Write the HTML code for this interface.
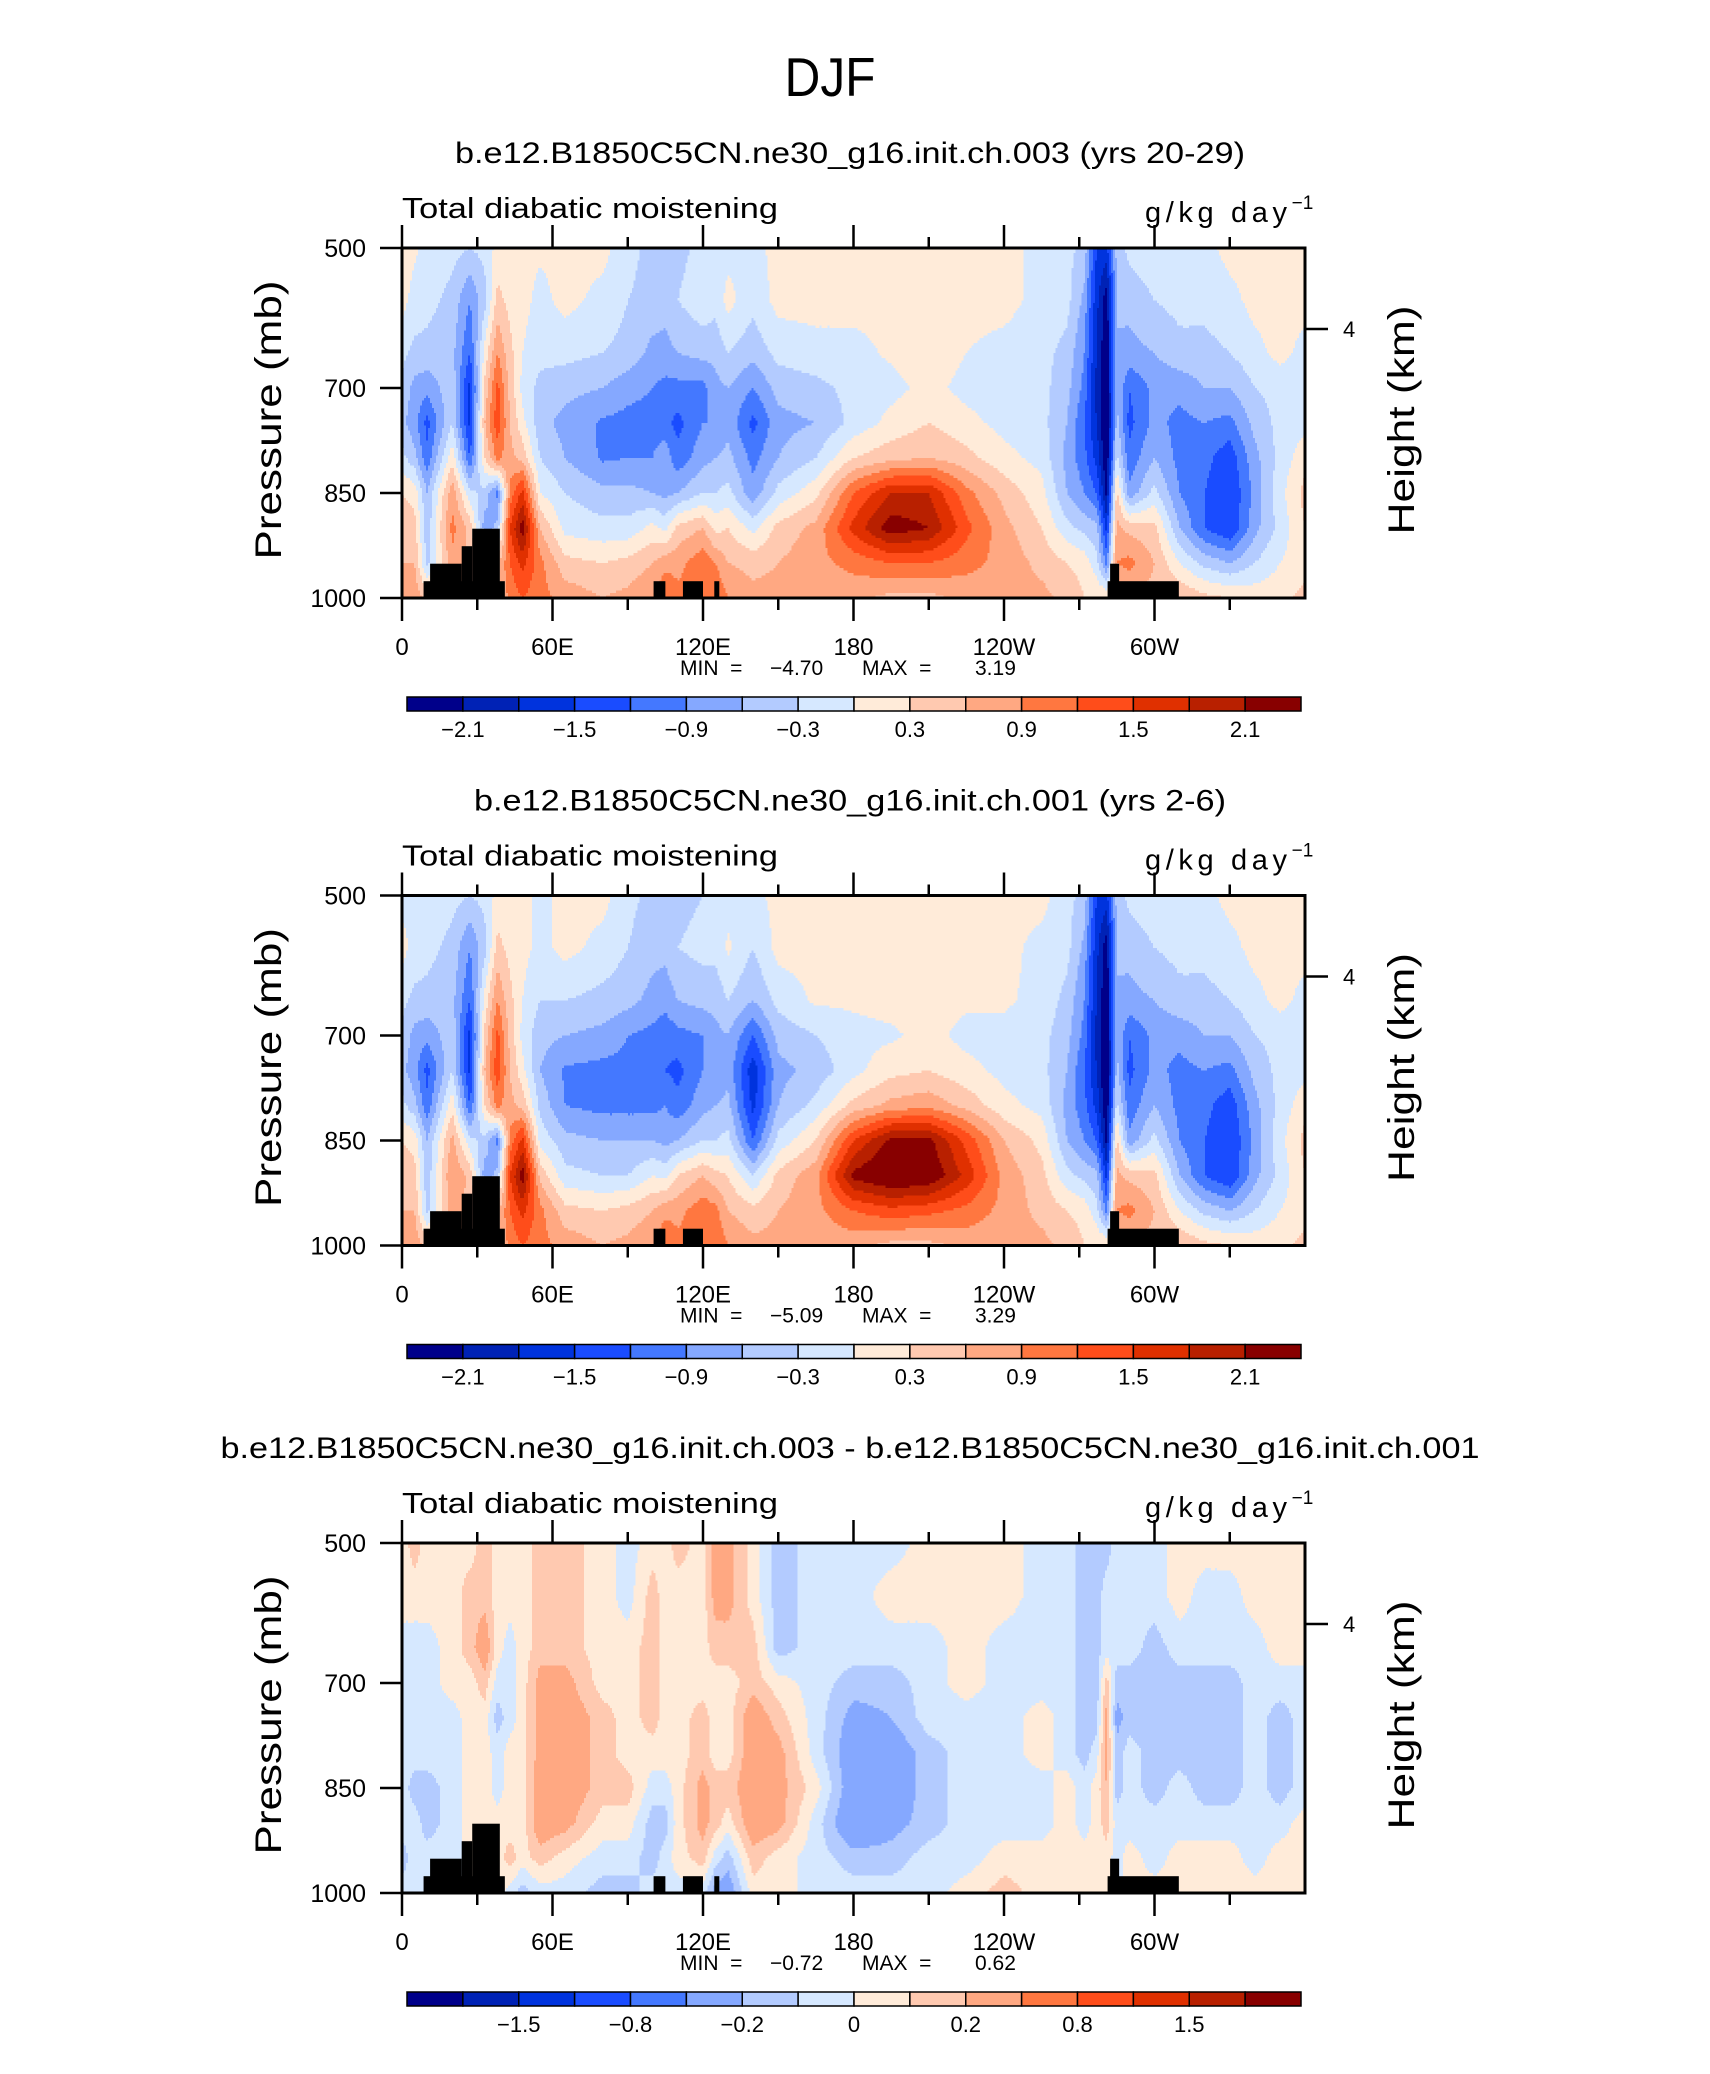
<!DOCTYPE html>
<html><head><meta charset="utf-8"><title>DJF</title>
<style>html,body{margin:0;padding:0;background:#fff}svg{display:block}text{font-family:"Liberation Sans",sans-serif;fill:#000}.pre{white-space:pre}</style>
</head><body>
<svg id="fig" xmlns="http://www.w3.org/2000/svg" width="1710" height="2074" viewBox="0 0 1710 2074">
<rect x="0" y="0" width="1710" height="2074" fill="#fff"/>
<text x="830" y="96" font-size="55" text-anchor="middle" textLength="91" lengthAdjust="spacingAndGlyphs">DJF</text>
</svg>
<script>
// ---------- data ----------
const lonNodes = [0,5,10,20,27,33,38,43,48,55,65,80,90,100,105,110,120,125,130,140,150,165,180,195,210,225,240,255,265,272,277,281,285,290,300,310,320,330,340,350,360];
const presNodes = [500,575,650,700,750,800,850,900,950,1000];
const fieldA = [
[0.1,0.1,-0.2,-0.4,-0.5,-0.2,0.3,0.5,0.6,0.7],
[0.05,-0.1,-0.4,-0.7,-0.8,-0.5,0.2,0.4,0.6,0.8],
[-0.1,-0.2,-0.4,-0.8,-1.3,-1.1,-0.6,-0.5,-0.4,0.5],
[-0.2,-0.4,-0.5,-0.4,-0.3,0.2,0.8,1.0,0.8,0.8],
[-0.3,-0.9,-1.2,-1.6,-1.6,-1.2,-0.2,0.5,0.5,0.5],
[-0.2,-0.4,0.1,0.4,0.6,0.3,-0.4,-0.8,0.5,0.5],
[0.1,0.4,0.9,1.3,1.4,1.0,-1.0,-0.5,0.5,0.5],
[0.1,0.2,0.4,0.5,0.6,0.7,1.0,1.5,1.2,1.0],
[0.1,0.1,0.0,-0.1,0.1,0.5,1.6,2.3,1.6,1.2],
[0.05,-0.1,-0.2,-0.4,-0.5,-0.3,0.0,0.6,1.0,1.0],
[0.1,0.1,-0.2,-0.5,-0.7,-0.6,-0.3,-0.1,0.4,0.8],
[0.1,-0.1,-0.3,-0.6,-0.95,-0.95,-0.5,-0.2,0.3,0.6],
[-0.2,-0.3,-0.4,-0.8,-1.0,-0.9,-0.5,-0.2,0.4,0.7],
[-0.4,-0.4,-0.7,-0.9,-1.0,-0.9,-0.6,0.1,0.6,0.9],
[-0.6,-0.5,-0.7,-1.0,-1.1,-0.7,-0.7,-0.1,0.8,1.2],
[-0.4,-0.3,-0.6,-1.0,-1.3,-1.1,-0.6,0.4,0.8,1.0],
[-0.2,-0.1,-0.5,-1.0,-0.9,-0.7,-0.3,0.6,1.1,1.0],
[-0.2,-0.2,-0.5,-0.7,-0.9,-0.6,-0.3,0.2,0.9,1.2],
[-0.1,0.1,-0.3,-0.6,-0.7,-0.5,-0.2,0.3,0.6,0.9],
[-0.1,-0.2,-0.5,-0.9,-1.3,-1.0,-0.8,-0.1,0.5,0.7],
[0.1,0.1,-0.2,-0.5,-0.7,-0.6,-0.2,0.4,0.6,0.7],
[0.1,0.1,-0.1,-0.4,-0.6,-0.3,0.2,0.7,0.8,0.7],
[0.1,0.1,-0.1,-0.2,-0.2,0.3,1.2,1.6,1.0,0.7],
[0.1,0.1,0.05,-0.1,0.1,0.5,1.8,2.3,1.2,0.5],
[0.1,0.2,0.2,0.1,0.3,0.6,1.8,2.1,1.2,0.5],
[0.1,0.1,0.0,-0.1,0.1,0.4,1.0,1.3,1.0,0.7],
[0.1,0.1,-0.1,-0.2,-0.1,0.1,0.5,0.7,0.8,0.7],
[-0.1,-0.1,-0.2,-0.2,-0.2,-0.1,0.1,0.3,0.5,0.7],
[-0.2,-0.2,-0.4,-0.5,-0.6,-0.7,-0.6,-0.2,0.3,0.5],
[-0.4,-0.7,-0.9,-1.0,-1.2,-1.1,-0.9,-0.4,0.2,0.3],
[-1.5,-1.7,-1.8,-1.9,-1.8,-1.6,-1.2,-0.5,-0.2,0.3],
[-1.6,-2.3,-2.4,-2.4,-2.5,-2.4,-2.2,-1.6,-1.0,0.3],
[-0.5,-0.6,-0.6,-0.6,-0.5,-0.2,0.4,0.7,0.9,0.5],
[-0.2,-0.5,-0.7,-1.2,-1.3,-1.1,-0.8,0.5,1.0,0.5],
[-0.1,-0.3,-0.6,-0.8,-0.8,-0.6,-0.2,0.4,0.6,0.5],
[-0.1,-0.2,-0.4,-0.8,-1.0,-1.0,-0.9,-0.6,0.0,0.6],
[-0.1,-0.2,-0.4,-0.6,-0.9,-1.1,-1.2,-1.2,-0.4,0.4],
[0.1,-0.1,-0.3,-0.6,-1.0,-1.4,-1.5,-1.5,-0.6,0.3],
[0.1,0.1,-0.1,-0.3,-0.5,-0.7,-0.8,-0.7,-0.3,0.2],
[0.1,0.1,0.1,-0.2,-0.2,-0.2,-0.1,-0.2,0.0,0.2],
[0.1,0.1,-0.1,-0.2,-0.1,0.2,0.4,0.3,0.2,0.4]
];
const fieldB = [
[-0.1,0.1,-0.2,-0.4,-0.5,-0.2,0.3,0.5,0.6,0.7],
[-0.05,-0.1,-0.4,-0.7,-0.8,-0.5,0.2,0.4,0.6,0.8],
[-0.1,-0.2,-0.4,-0.8,-1.3,-1.1,-0.6,-0.5,-0.4,0.5],
[-0.2,-0.4,-0.5,-0.4,-0.3,0.2,0.7,0.9,0.8,0.8],
[-0.3,-0.9,-1.2,-1.6,-1.6,-1.2,-0.2,0.5,0.5,0.5],
[-0.2,-0.4,0.1,0.4,0.6,0.3,-0.4,-0.8,0.5,0.5],
[0.1,0.4,0.9,1.3,1.4,1.0,-1.0,-0.5,0.5,0.5],
[0.1,0.2,0.4,0.5,0.6,0.7,1.0,1.5,1.2,1.0],
[0.1,0.1,0.0,-0.1,0.1,0.5,1.6,2.3,1.6,1.2],
[-0.1,-0.1,-0.3,-0.5,-0.6,-0.4,-0.1,0.5,1.0,1.0],
[0.1,0.1,-0.3,-0.6,-0.95,-0.9,-0.5,-0.2,0.4,0.8],
[0.1,-0.1,-0.4,-0.7,-1.0,-1.0,-0.6,-0.3,0.3,0.6],
[-0.2,-0.3,-0.5,-0.9,-1.0,-1.0,-0.6,-0.3,0.4,0.7],
[-0.4,-0.5,-0.7,-1.0,-1.1,-1.0,-0.6,0.0,0.6,0.9],
[-0.6,-0.5,-0.8,-1.1,-1.2,-0.9,-0.7,-0.1,0.8,1.2],
[-0.4,-0.3,-0.6,-1.0,-1.3,-1.1,-0.6,0.3,0.8,1.0],
[-0.3,-0.2,-0.5,-0.9,-0.9,-0.7,-0.3,0.6,1.1,1.0],
[-0.2,-0.2,-0.5,-0.7,-0.9,-0.6,-0.3,0.4,1.0,1.2],
[-0.1,0.05,-0.3,-0.6,-0.7,-0.5,-0.2,0.3,0.6,0.9],
[-0.1,-0.3,-0.6,-1.2,-1.7,-1.6,-1.2,-0.3,0.4,0.7],
[0.1,0.1,-0.2,-0.5,-0.7,-0.6,-0.2,0.4,0.6,0.7],
[0.1,0.1,0.05,-0.3,-0.5,-0.2,0.3,0.8,0.8,0.7],
[0.1,0.1,0.05,-0.1,-0.1,0.4,1.5,2.2,1.2,0.7],
[0.1,0.1,0.1,-0.05,0.2,0.7,2.2,2.5,1.4,0.5],
[0.1,0.2,0.2,0.1,0.3,0.8,2.2,2.4,1.3,0.5],
[0.1,0.1,0.05,-0.1,0.1,0.5,1.4,1.7,1.1,0.7],
[0.1,0.1,0.05,-0.1,-0.1,0.1,0.6,0.8,0.8,0.7],
[0.1,-0.1,-0.1,-0.2,-0.2,-0.1,0.2,0.4,0.5,0.7],
[-0.2,-0.2,-0.4,-0.5,-0.6,-0.7,-0.6,-0.2,0.3,0.5],
[-0.4,-0.7,-0.9,-1.0,-1.2,-1.1,-0.9,-0.4,0.2,0.3],
[-1.5,-1.7,-1.8,-1.9,-1.8,-1.6,-1.2,-0.5,-0.2,0.3],
[-1.6,-2.3,-2.4,-2.4,-2.5,-2.4,-2.2,-1.6,-1.0,0.3],
[-0.5,-0.6,-0.6,-0.6,-0.5,-0.2,0.4,0.7,0.9,0.5],
[-0.2,-0.5,-0.7,-1.2,-1.3,-1.1,-0.8,0.5,1.0,0.5],
[-0.1,-0.3,-0.6,-0.8,-0.8,-0.6,-0.2,0.4,0.6,0.5],
[-0.1,-0.2,-0.4,-0.8,-1.0,-1.0,-0.9,-0.6,0.0,0.6],
[-0.1,-0.2,-0.4,-0.6,-0.9,-1.1,-1.2,-1.2,-0.4,0.4],
[0.1,-0.1,-0.3,-0.6,-1.0,-1.4,-1.5,-1.5,-0.6,0.3],
[0.1,0.1,-0.1,-0.3,-0.5,-0.7,-0.8,-0.7,-0.3,0.2],
[0.1,0.1,0.1,-0.2,-0.2,-0.2,-0.1,-0.2,0.0,0.2],
[0.1,0.1,-0.1,-0.2,-0.1,0.2,0.4,0.3,0.2,0.4]
];
const fieldC = [
[0.05,0.05,-0.05,-0.05,-0.05,-0.05,-0.05,-0.05,-0.15,-0.05],
[0.15,0.05,-0.05,-0.05,-0.05,-0.05,-0.15,-0.05,-0.05,-0.05],
[0.05,0.05,-0.05,-0.05,-0.05,-0.05,-0.15,-0.15,-0.05,-0.05],
[0.05,0.05,0.05,0.05,-0.05,-0.05,-0.05,-0.05,-0.05,-0.05],
[0.05,0.15,0.15,0.05,0.05,0.05,0.05,0.05,0.05,0.05],
[0.15,0.15,0.3,0.15,0.05,0.05,0.05,0.1,0.05,0.05],
[0.05,0.05,0.05,-0.05,-0.15,-0.05,-0.05,0.05,0.05,0.05],
[0.05,0.05,-0.05,-0.05,-0.05,0.05,0.05,0.05,0.15,-0.05],
[0.05,0.05,0.05,0.05,0.05,0.05,0.05,0.05,0.05,-0.15],
[0.15,0.15,0.15,0.25,0.25,0.25,0.3,0.3,0.15,-0.05],
[0.15,0.15,0.15,0.25,0.3,0.3,0.3,0.25,0.05,-0.05],
[0.05,0.05,0.05,0.05,0.15,0.15,0.15,0.05,-0.05,-0.15],
[-0.05,-0.05,0.05,0.05,0.05,0.05,0.15,0.05,-0.05,-0.15],
[0.05,0.15,0.15,0.15,0.15,0.05,-0.05,-0.15,-0.15,-0.05],
[0.05,0.05,0.05,0.05,0.05,0.05,-0.05,-0.15,-0.05,-0.05],
[0.15,0.05,0.05,0.05,0.05,0.05,0.05,0.05,0.05,-0.05],
[0.05,0.05,0.05,0.05,0.15,0.15,0.25,0.25,0.15,-0.05],
[0.25,0.25,0.15,0.05,0.05,0.05,0.15,0.15,-0.05,-0.25],
[0.25,0.25,0.15,0.05,0.05,0.05,0.15,0.05,-0.15,-0.3],
[0.05,0.05,0.15,0.15,0.3,0.3,0.3,0.3,0.15,0.05],
[-0.15,-0.15,-0.15,0.05,0.15,0.25,0.25,0.25,0.05,0.05],
[-0.05,-0.05,-0.05,-0.05,-0.05,-0.05,0.05,-0.05,-0.05,-0.05],
[-0.05,-0.05,-0.05,-0.15,-0.25,-0.3,-0.3,-0.35,-0.15,-0.05],
[-0.05,0.05,-0.05,-0.15,-0.2,-0.3,-0.3,-0.25,-0.15,-0.05],
[0.05,0.05,-0.05,-0.05,-0.05,-0.15,-0.15,-0.15,-0.05,-0.05],
[0.05,0.05,0.05,0.05,-0.05,-0.05,-0.05,-0.05,-0.05,0.05],
[0.05,0.05,-0.05,-0.05,-0.05,-0.05,-0.05,-0.05,0.05,0.15],
[-0.05,-0.05,-0.05,-0.05,0.05,0.05,-0.05,-0.05,0.05,0.05],
[-0.05,-0.05,-0.05,-0.05,-0.05,-0.05,0.05,0.05,0.05,0.05],
[-0.15,-0.15,-0.15,-0.15,-0.15,-0.15,-0.05,-0.05,0.05,0.05],
[-0.15,-0.15,-0.15,-0.15,-0.15,-0.05,0.05,0.05,0.05,0.05],
[-0.15,-0.05,-0.05,0.15,0.25,0.25,0.2,0.15,0.05,0.05],
[-0.05,-0.05,-0.05,-0.15,-0.25,-0.15,-0.15,-0.05,-0.05,-0.05],
[-0.05,-0.05,-0.05,-0.15,-0.15,-0.05,-0.05,-0.05,0.05,0.05],
[-0.05,-0.05,-0.15,-0.15,-0.15,-0.15,-0.15,-0.05,-0.05,0.05],
[0.05,0.05,-0.05,-0.15,-0.15,-0.15,-0.05,-0.05,0.05,0.05],
[0.05,-0.05,-0.05,-0.15,-0.15,-0.15,-0.15,-0.05,0.05,0.05],
[0.05,-0.05,-0.05,-0.15,-0.15,-0.15,-0.15,-0.05,0.05,0.05],
[0.05,0.05,-0.05,-0.05,-0.05,-0.05,-0.05,-0.05,-0.05,0.05],
[0.05,0.05,0.05,-0.05,-0.15,-0.15,-0.15,-0.05,0.05,0.05],
[0.05,0.05,0.05,-0.05,-0.05,-0.05,-0.05,0.05,0.05,0.05]
];
// land mask blocks: [lonStart, lonEnd, topPressure]
const landA = [[8.6,41,976],[11.2,23.8,951],[23.8,28,926],[28,39,901],[100.3,105,976],[112,120,976],[124.5,126.5,976],[281.3,309.7,976],[282.3,285.9,951]];
const landB = [[8.6,41,976],[11.2,23.8,951],[23.8,28,926],[28,39,901],[100.3,105,976],[112,120,976],[281.3,309.7,976],[282.3,285.9,951]];
const levelsAB = [-2.1,-1.8,-1.5,-1.2,-0.9,-0.6,-0.3,0,0.3,0.6,0.9,1.2,1.5,1.8,2.1];
const levelsC = [-2,-1.5,-1,-0.8,-0.4,-0.2,-0.1,0,0.1,0.2,0.4,0.8,1,1.5,2];
const cbarLabelsAB = ["−2.1","−1.5","−0.9","−0.3","0.3","0.9","1.5","2.1"];
const cbarLabelsC = ["−1.5","−0.8","−0.2","0","0.2","0.8","1.5"];
const xTickLabels = ["0","60E","120E","180","120W","60W"];
const xTickLons = [0,60,120,180,240,300];
const yTickLabels = ["500","700","850","1000"];
const yTickPres = [500,700,850,1000];
const titles = ["b.e12.B1850C5CN.ne30_g16.init.ch.003 (yrs 20-29)","b.e12.B1850C5CN.ne30_g16.init.ch.001 (yrs 2-6)","b.e12.B1850C5CN.ne30_g16.init.ch.003 - b.e12.B1850C5CN.ne30_g16.init.ch.001"];
const minVals = ["−4.70","−5.09","−0.72"];
const maxVals = ["3.19","3.29","0.62"];
const palette = ["#00008a","#0022b5","#0033dd","#1a4cff","#4478ff","#85a8ff","#b3cbff","#d6e8ff","#ffebd9","#ffc9b0","#ffa882","#ff7740","#ff4d1a","#e03000","#b82000","#880000"];

// ---------- drawing ----------
const NS="http://www.w3.org/2000/svg";
const svg=document.getElementById('fig');
function mk(tag,attrs,parent){const e=document.createElementNS(NS,tag);for(const k in attrs)e.setAttribute(k,attrs[k]);(parent||svg).appendChild(e);return e;}
const X0=402,X1=1305,H=350;
function xs(lon){return X0+lon/360*(X1-X0);}
function ysF(top){return function(p){return top+(p-500)/500*H;};}
function interp(field,lon,p){
  let i=0;while(i<lonNodes.length-2&&lon>lonNodes[i+1])i++;
  let j=0;while(j<presNodes.length-2&&p>presNodes[j+1])j++;
  const tx=Math.min(1,Math.max(0,(lon-lonNodes[i])/(lonNodes[i+1]-lonNodes[i])));
  const ty=Math.min(1,Math.max(0,(p-presNodes[j])/(presNodes[j+1]-presNodes[j])));
  const a=field[i][j],b=field[i+1][j],c=field[i][j+1],d=field[i+1][j+1];
  return a*(1-tx)*(1-ty)+b*tx*(1-ty)+c*(1-tx)*ty+d*tx*ty;
}
function cls(v,lev){let k=0;while(k<lev.length&&v>=lev[k])k++;return k;}
const panels=[
 {field:fieldA,land:landA,lev:levelsAB,cl:cbarLabelsAB,cpos:[1,3,5,7,9,11,13,15],dy:0},
 {field:fieldB,land:landB,lev:levelsAB,cl:cbarLabelsAB,cpos:[1,3,5,7,9,11,13,15],dy:647.5},
 {field:fieldC,land:landA,lev:levelsC,cl:cbarLabelsC,cpos:[2,4,6,8,10,12,14],dy:1295}
];
panels.forEach((P,pi)=>{
  const dy=P.dy, top=248+dy, ys=ysF(top);
  const g=mk('g',{});
  
  
  const t=mk('text',{x:850,y:163+dy,'font-size':30,'text-anchor':'middle'},g);
  
  
  t.textContent=titles[pi];
  const tl=[790,752,1259][pi];
  t.setAttribute('textLength',tl);t.setAttribute('lengthAdjust','spacingAndGlyphs');
  const st=mk('text',{x:402,y:218+dy,'font-size':29,textLength:376,lengthAdjust:'spacingAndGlyphs'},g);
  
  
  st.textContent='Total diabatic moistening';
  const un=mk('text',{x:1145,y:222+dy,'font-size':29},g);
  
  
  const u1=mk('tspan',{textLength:142,lengthAdjust:'spacing'},un);u1.textContent='g/kg day';
  const u2=mk('tspan',{'font-size':19,dy:-13},un);u2.textContent='−1';
  // heatmap
  const hm=mk('g',{'shape-rendering':'crispEdges'},g);
  
  
  const nx=452, ny=140, cw=(X1-X0)/nx, ch=H/ny;
  for(let r=0;r<ny;r++){
    const p=500+(r+0.5)/ny*500;
    let start=0,prev=null;
    for(let c=0;c<=nx;c++){
      let k=null;
      if(c<nx){const lon=(c+0.5)/nx*360;k=cls(interp(P.field,lon,p),P.lev);}
      if(k!==prev){
        if(prev!==null){
          const rc=mk('rect',{x:(X0+start*cw).toFixed(2),y:(top+r*ch).toFixed(2),width:((c-start)*cw+0.6).toFixed(2),height:(ch+0.6).toFixed(2),fill:palette[prev]},hm);
          
          
        }
        start=c;prev=k;
      }
    }
  }
  P.land.forEach(L=>{
    const rc=mk('rect',{x:xs(L[0]),y:ys(L[2]),width:xs(L[1])-xs(L[0]),height:ys(1000)-ys(L[2]),fill:'#000'},g);
    
    
  });
  const fr=mk('rect',{x:X0,y:top,width:X1-X0,height:H,fill:'none',stroke:'#000','stroke-width':3},g);
  
  
  for(let lon=0;lon<360;lon+=30){
    const maj=lon%60===0, x=xs(lon);
    const a=mk('line',{x1:x,x2:x,y1:top+H,y2:top+H+(maj?23:12),stroke:'#000','stroke-width':2.5},g);
    
    
    const b=mk('line',{x1:x,x2:x,y1:top,y2:top-(maj?23:11),stroke:'#000','stroke-width':2.5},g);
    
    
  }
  xTickLabels.forEach((s,i)=>{
    const tx=mk('text',{x:xs(xTickLons[i]),y:655+dy,'font-size':24,'text-anchor':'middle'},g);
    
    
    tx.textContent=s;
  });
  yTickLabels.forEach((s,i)=>{
    const y=ys(yTickPres[i]);
    const ln=mk('line',{x1:380,x2:X0,y1:y,y2:y,stroke:'#000','stroke-width':2.5},g);
    
    
    const tx=mk('text',{x:366,y:y+9,'font-size':25,'text-anchor':'end'},g);
    
    
    tx.textContent=s;
  });
  const rt=mk('line',{x1:X1,x2:1328,y1:329+dy,y2:329+dy,stroke:'#000','stroke-width':2.5},g);
  
  
  const r4=mk('text',{x:1343,y:337+dy,'font-size':22},g);
  
  
  r4.textContent='4';
  const yl=mk('text',{x:0,y:0,'font-size':37,'text-anchor':'middle',textLength:279,lengthAdjust:'spacingAndGlyphs',transform:'translate(281,'+(420+dy)+') rotate(-90)'},g);
  
  
  yl.textContent='Pressure (mb)';
  const yr=mk('text',{x:0,y:0,'font-size':37,'text-anchor':'middle',textLength:229,lengthAdjust:'spacingAndGlyphs',transform:'translate(1414,'+(420+dy)+') rotate(-90)'},g);
  
  
  yr.textContent='Height (km)';
  const mm=mk('text',{x:680,y:675+dy,'font-size':21,'class':'pre'},g);
  
  
  const m1=mk('tspan',{x:680},mm);m1.textContent='MIN  =';
  const m2=mk('tspan',{x:770},mm);m2.textContent=minVals[pi];
  const m3=mk('tspan',{x:862},mm);m3.textContent='MAX  =';
  const m4=mk('tspan',{x:975},mm);m4.textContent=maxVals[pi];
  const cb=mk('g',{},g);
  
  
  const cx0=407,cx1=1301,bw=(cx1-cx0)/16;
  palette.forEach((col,i)=>{
    const b=mk('rect',{x:cx0+i*bw,y:697+dy,width:bw,height:14,fill:col,stroke:'#000','stroke-width':1.5},cb);
    
    
  });
  P.cl.forEach((s,i)=>{
    const tx=mk('text',{x:cx0+P.cpos[i]*bw,y:737+dy,'font-size':22,'text-anchor':'middle'},cb);
    
    
    tx.textContent=s;
  });
});
</script>
</body></html>
